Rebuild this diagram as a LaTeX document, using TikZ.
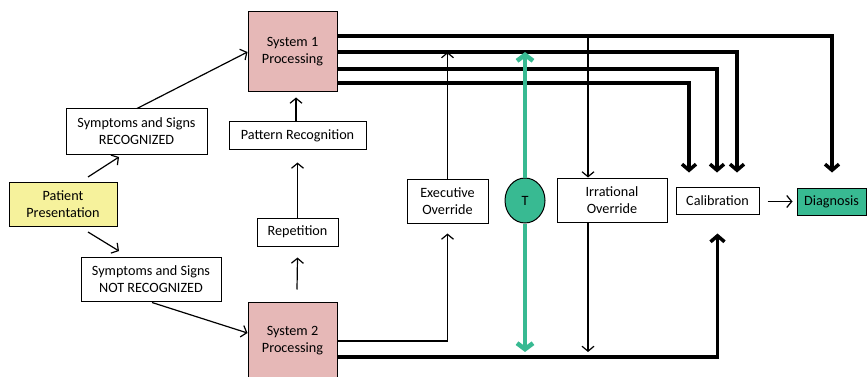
\documentclass[tikz,border=0pt]{standalone}
\usepackage{fontspec}
\setmainfont{Carlito}
\usetikzlibrary{arrows.meta,shapes.geometric,calc}
\definecolor{pinkfill}{HTML}{E6B8B7}
\definecolor{yellowfill}{HTML}{F6F29C}
\definecolor{tealc}{HTML}{38BA92}
\begin{document}
\begin{tikzpicture}[x=1pt,y=-1pt,
  box/.style={draw=black,line width=1pt,rectangle,inner sep=0pt,align=center,font=\fontsize{14.2}{17}\selectfont},
  thin/.style={line width=1.2pt,-{Straight Barb[length=5pt,width=12pt]}},
  thick/.style={line width=3.5pt,-{Straight Barb[length=6pt,width=14pt]}},
  green/.style={line width=4.5pt,draw=tealc,-{Straight Barb[length=6pt,width=16pt]}}]
\useasboundingbox (0,0) rectangle (867,377);
\node[box,fill=pinkfill,minimum width=89pt,minimum height=80pt] (s1) at (292.5,52) {System 1\\Processing};
\node[box,fill=pinkfill,minimum width=89pt,minimum height=78pt] (s2) at (292.5,341) {System 2\\Processing};
\node[box,fill=yellowfill,minimum width=108pt,minimum height=44pt] (pp) at (63,204) {Patient\\Presentation};
\node[box,minimum width=141pt,minimum height=45pt] (sr) at (136.5,131.5) {Symptoms and Signs\\RECOGNIZED};
\node[box,minimum width=140pt,minimum height=44pt] (snr) at (151,279) {Symptoms and Signs\\NOT RECOGNIZED};
\node[box,minimum width=137pt,minimum height=27pt] (pr) at (297.5,135.5) {Pattern Recognition};
\node[box,minimum width=81pt,minimum height=28pt] (rep) at (297.5,232) {Repetition};
\node[box,minimum width=81pt,minimum height=44pt] (exec) at (447.5,201) {Executive\\Override};
\node[box,ellipse,fill=tealc,minimum width=40pt,minimum height=45pt] (t) at (525,200.5) {T};
\node[box,minimum width=110pt,minimum height=44pt] (irr) at (612,200) {Irrational\\Override};
\node[box,minimum width=83pt,minimum height=27pt] (cal) at (717.5,200.5) {Calibration};
\node[box,fill=tealc,minimum width=69pt,minimum height=27pt] (diag) at (831.5,201.5) {Diagnosis};
% free ends
\coordinate (p1) at (88,177); \coordinate (p1e) at (119,157);
\coordinate (p2) at (88,232); \coordinate (p2e) at (119,251);
\coordinate (l1) at (337,36);
\coordinate (l2) at (337,52);
\coordinate (l3) at (337,69);
\coordinate (l4) at (337,83);
\coordinate (b1) at (337,341);
\coordinate (b2) at (337,357);
\coordinate (ix) at (588,0);
% left side arrows
\draw[thin] (p1) -- (p1e);
\draw[thin] (p2) -- (p2e);
\draw[thin] ($(sr.north)+(0.5,0)$) -- (s1.west);
\draw[thin] ($(snr.south)+(1,1)$) -- ($(s2.west)+(0,-8)$);
% vertical chain
\draw[thin] ($(s2.north)+(4.5,-12)$) -- ($(rep.south)+(0,11)$);
\draw[thin] (rep.north) -- ($(pr.south)+(0,13)$);
\draw[thin] ($(pr.north)+(-1.5,0)$) -- ($(s1.south)+(3.5,5)$);
% executive override
\draw[thin] (b1) -| ($(exec.south)+(0,10)$);
\draw[thin] (exec.north) -- (exec.north |- l2);
% irrational override
\draw[thin] (l1 -| ix) -- (irr.north -| ix);
\draw[thin] (irr.south -| ix) -- ($(b2 -| ix)+(0,-5)$);
% thick lines from System 1
\draw[thick] (l1) -| ($(diag.north)+(0.5,-15)$);
\draw[thick] (l2) -| ($(cal.north)+(19.5,-14)$);
\draw[thick] (l3) -| ($(cal.north)+(-0.5,-14)$);
\draw[thick] (l4) -| ($(cal.north)+(-28.5,-14)$);
% thick line from System 2
\draw[thick] (b2) -| ($(cal.south)+(0,19)$);
% T arrows
\draw[green] (t.north) -- (t.north |- l2);
\draw[green] (t.south) -- ($(t.south |- b2)+(0,-5)$);
% calibration to diagnosis
\draw[thin] ($(cal.east)+(8,1)$) -- ($(diag.west)+(-4,0)$);
\end{tikzpicture}
\end{document}
